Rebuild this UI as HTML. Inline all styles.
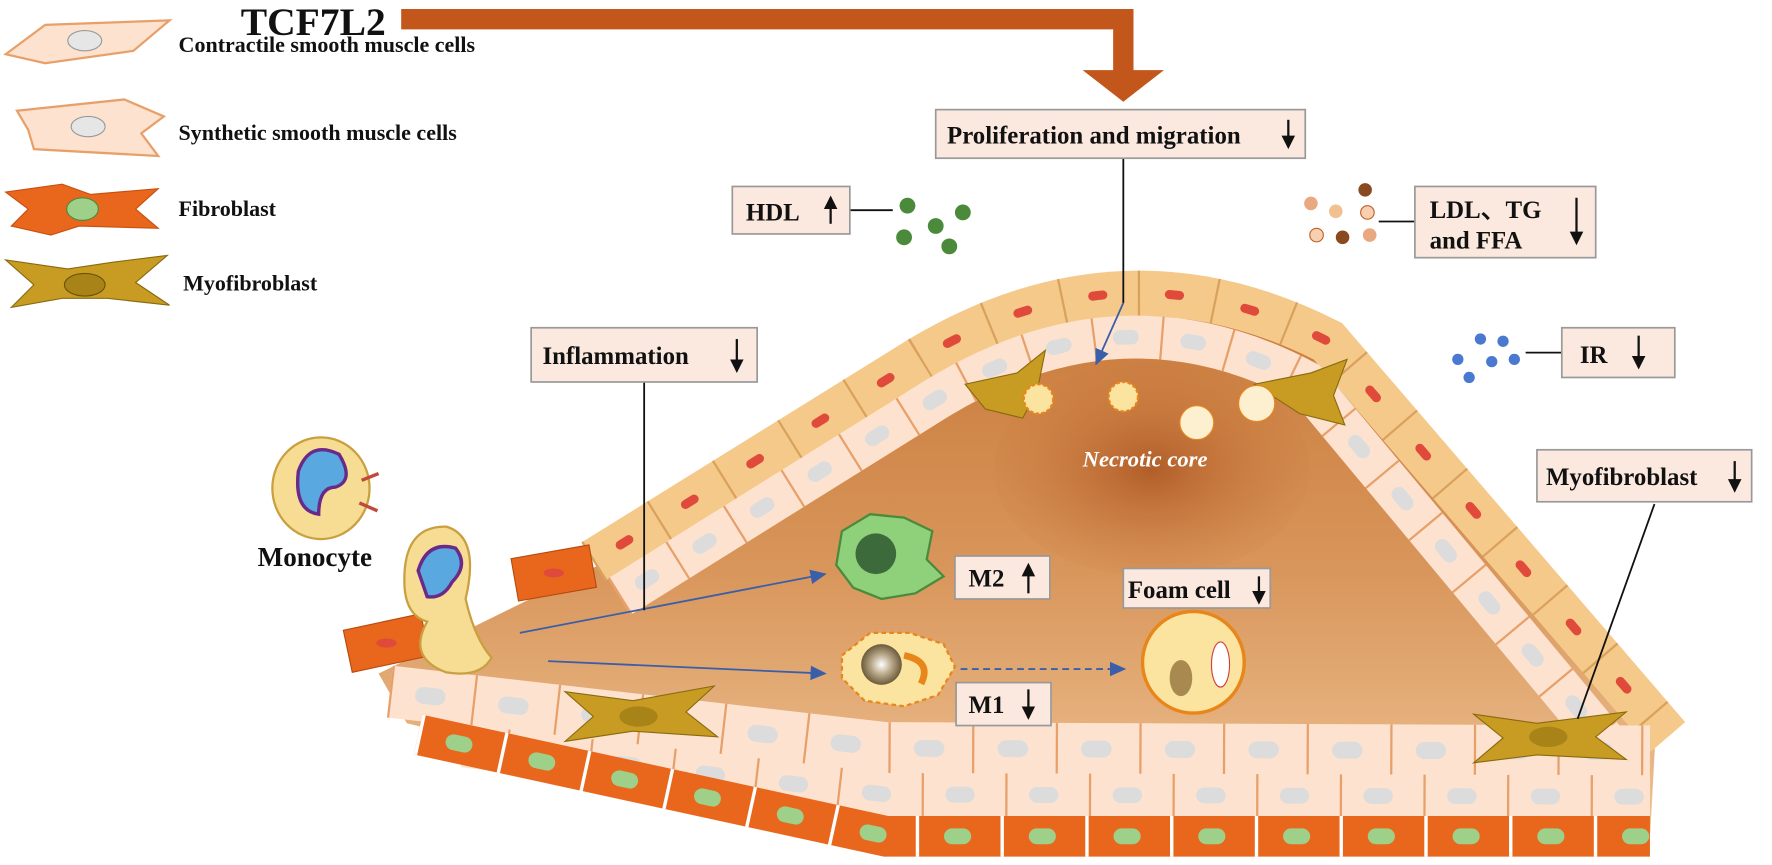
<!DOCTYPE html>
<html><head><meta charset="utf-8"><style>
html,body{margin:0;padding:0;background:#fff}
svg{display:block}
text{font-family:"Liberation Serif",serif;font-weight:bold;fill:#111}
</style></head><body>
<svg width="1772" height="865" viewBox="0 0 1568 765.4" preserveAspectRatio="none" xmlns="http://www.w3.org/2000/svg">
<defs>
<linearGradient id="pl" x1="0" y1="0" x2="0" y2="1">
<stop offset="0" stop-color="#c9793a"/><stop offset="0.5" stop-color="#d8955a"/><stop offset="1" stop-color="#efc496"/>
</linearGradient>
<radialGradient id="nc"><stop offset="0" stop-color="#a9521f" stop-opacity="0.8"/><stop offset="1" stop-color="#c8773c" stop-opacity="0.1"/></radialGradient>
<radialGradient id="ball"><stop offset="0" stop-color="#fff"/><stop offset="0.5" stop-color="#b9a98a"/><stop offset="1" stop-color="#6b5a3a"/></radialGradient>
<marker id="ab" markerWidth="10" markerHeight="10" refX="8" refY="4" orient="auto"><path d="M0,0 L9,4 L0,8 Z" fill="#3a5fa8"/></marker>
<marker id="kb" markerWidth="8" markerHeight="8" refX="5" refY="3" orient="auto"><path d="M0,0 L6,3 L0,6 Z" fill="#111"/></marker>
</defs>

<!-- Legend -->
<path d="M5,48 L40,22 L150,18 L118,45 L40,56 Z" fill="#fde3cf" stroke="#e8a06a" stroke-width="2"/>
<ellipse cx="75" cy="36" rx="15" ry="9" fill="#e6e6e6" stroke="#999"/>
<path d="M15,98 L110,88 L145,103 L125,118 L140,138 L30,132 L25,115 Z" fill="#fde3cf" stroke="#e8a06a" stroke-width="2"/>
<ellipse cx="78" cy="112" rx="15" ry="9" fill="#e6e6e6" stroke="#999"/>
<path d="M5,170 L55,163 L80,172 L140,167 L120,185 L140,202 L70,200 L45,208 L10,200 L25,185 Z" fill="#e8671c" stroke="#c85010"/>
<ellipse cx="73" cy="185" rx="14" ry="10" fill="#9fd08a" stroke="#4a8a3a"/>
<path d="M5,230 L60,238 L100,232 L148,226 L120,250 L150,270 L95,264 L55,264 L10,272 L30,252 Z" fill="#c89c22" stroke="#8a6a10"/>
<ellipse cx="75" cy="252" rx="18" ry="10" fill="#a88418" stroke="#6a5208"/>
<text x="158" y="46" font-size="19.5">Contractile smooth muscle cells</text>
<text x="158" y="124" font-size="19.5">Synthetic smooth muscle cells</text>
<text x="158" y="191" font-size="19.5">Fibroblast</text>
<text x="162" y="257" font-size="19.5">Myofibroblast</text>

<!-- TCF7L2 arrow -->
<text x="213" y="31" font-size="35">TCF7L2</text>
<path d="M355,8 L1003,8 L1003,62 L1030,62 L994,90 L958,62 L985,62 L985,26 L355,26 Z" fill="#c2561b"/>

<!-- Plaque body -->
<path d="M335,596 L530,500 L815,320 Q994,205 1175,305 L1465,650 L1460,742 L784,742 L360,640 Z" fill="url(#pl)"/>
<ellipse cx="1019" cy="415" rx="140" ry="95" fill="url(#nc)"/>

<!-- Cap outer yellow cells -->
<path d="M525,497 L815,317 Q994,210 1175,302 L1476,652" fill="none" stroke="#f5c98a" stroke-width="40"/>
<path d="M525,497 L815,317 Q994,210 1175,302 L1476,652" fill="none" stroke="#d9a25c" stroke-width="40" stroke-dasharray="2 66"/>
<path d="M525,497 L815,317 Q994,210 1175,302 L1476,652" fill="none" stroke="#e04a3a" stroke-width="8" stroke-linecap="round" stroke-dasharray="9 59" stroke-dashoffset="-28"/>
<!-- Cap inner pale cells -->
<path d="M548,528 L830,352 Q994,252 1155,338 L1440,680" fill="none" stroke="#fde3cf" stroke-width="38"/>
<path d="M548,528 L830,352 Q994,252 1155,338 L1440,680" fill="none" stroke="#e8a06a" stroke-width="38" stroke-dasharray="2 58"/>
<path d="M548,528 L830,352 Q994,252 1155,338 L1440,680" fill="none" stroke="#dcdcdc" stroke-width="13" stroke-linecap="round" stroke-dasharray="10 50" stroke-dashoffset="-24"/>

<!-- Bottom pale layers -->
<path d="M345,612 L784,662 L1460,665" fill="none" stroke="#fde3cf" stroke-width="46"/>
<path d="M345,612 L784,662 L1460,665" fill="none" stroke="#e8a06a" stroke-width="46" stroke-dasharray="2 72"/>
<path d="M345,612 L784,662 L1460,665" fill="none" stroke="#dcdcdc" stroke-width="15" stroke-linecap="round" stroke-dasharray="12 62" stroke-dashoffset="-30"/>
<path d="M410,660 L784,703 L1460,705" fill="none" stroke="#fde3cf" stroke-width="38"/>
<path d="M410,660 L784,703 L1460,705" fill="none" stroke="#e8a06a" stroke-width="38" stroke-dasharray="2 72" stroke-dashoffset="36"/>
<path d="M410,660 L784,703 L1460,705" fill="none" stroke="#dcdcdc" stroke-width="14" stroke-linecap="round" stroke-dasharray="12 62" stroke-dashoffset="-66"/>
<!-- Fibroblast layer -->
<path d="M370,650 L784,740 L1460,740" fill="none" stroke="#e8671c" stroke-width="36"/>
<path d="M370,650 L784,740 L1460,740" fill="none" stroke="#fff" stroke-width="36" stroke-dasharray="3 72"/>
<path d="M370,650 L784,740 L1460,740" fill="none" stroke="#9fd08a" stroke-width="14" stroke-linecap="round" stroke-dasharray="10 65" stroke-dashoffset="-32"/>

<!-- Myofibroblasts -->
<path d="M500,612 L560,620 L632,607 L607,630 L635,652 L560,647 L500,656 L525,634 Z" fill="#c89c22" stroke="#8a6a10"/>
<ellipse cx="565" cy="634" rx="17" ry="9" fill="#a88418"/>
<path d="M1304,632 L1360,640 L1439,630 L1412,652 L1439,672 L1360,668 L1304,675 L1330,653 Z" fill="#c89c22" stroke="#8a6a10"/>
<ellipse cx="1370" cy="652" rx="17" ry="9" fill="#a88418"/>
<path d="M854,340 L900,330 L925,310 L918,345 L905,370 L872,362 Z" fill="#c89c22" stroke="#8a6a10"/>
<path d="M1110,340 L1160,330 L1192,318 L1180,350 L1190,376 L1150,366 Z" fill="#c89c22" stroke="#8a6a10"/>

<!-- Left orange cells -->
<rect x="455" y="488" width="70" height="38" fill="#e8671c" stroke="#b84a10" transform="rotate(-10 490 507)"/>
<ellipse cx="490" cy="507" rx="9" ry="4" fill="#e04a3a"/>
<rect x="307" y="550" width="70" height="38" fill="#e8671c" stroke="#b84a10" transform="rotate(-12 342 569)"/>
<ellipse cx="342" cy="569" rx="9" ry="4" fill="#e04a3a"/>

<!-- Monocytes -->
<ellipse cx="284" cy="432" rx="43" ry="45" fill="#f7dc93" stroke="#c9a040" stroke-width="2"/>
<path d="M264,417 Q274,389 300,402 Q314,425 297,431 Q282,431 282,455 Q260,452 264,417 Z" fill="#5aa8e0" stroke="#6a2a8a" stroke-width="3"/>
<path d="M320,425 L335,419 M318,445 L334,452" stroke="#c04a3a" stroke-width="3"/>
<path d="M358,520 Q355,465 395,466 Q425,475 412,530 Q420,565 435,582 Q425,600 395,595 Q360,582 378,550 Q360,545 358,520 Z" fill="#f7dc93" stroke="#c9a040" stroke-width="2"/>
<path d="M370,505 Q378,478 403,485 Q415,500 400,515 Q392,530 378,528 Z" fill="#5aa8e0" stroke="#6a2a8a" stroke-width="3"/>
<text x="228" y="501" font-size="24">Monocyte</text>

<!-- Macrophages -->
<path d="M745,470 L770,455 L800,458 L825,470 L820,495 L835,510 L810,525 L780,530 L755,520 L740,500 Z" fill="#8fd07a" stroke="#4a8a3a" stroke-width="2"/>
<circle cx="775" cy="490" r="18" fill="#3c6a3a"/>
<path d="M745,580 L770,560 L805,560 L835,570 L845,590 L830,615 L800,625 L765,620 L745,600 Z" fill="#fbe3a0" stroke="#e8861a" stroke-width="2" stroke-dasharray="4 3"/>
<circle cx="780" cy="588" r="18" fill="url(#ball)"/>
<path d="M800,580 Q825,585 815,605" stroke="#e8861a" stroke-width="6" fill="none"/>
<circle cx="1056" cy="586" r="45" fill="#fbe3a0" stroke="#e8861a" stroke-width="3"/>
<ellipse cx="1045" cy="600" rx="10" ry="16" fill="#a88a50"/>
<ellipse cx="1080" cy="588" rx="8" ry="20" fill="#fff" stroke="#d04040"/>
<circle cx="919" cy="353" r="13" fill="#fbe3a0" stroke="#e8861a" stroke-width="2" stroke-dasharray="3 2"/>
<circle cx="994" cy="351" r="13" fill="#fbe3a0" stroke="#e8861a" stroke-width="2" stroke-dasharray="3 2"/>
<circle cx="1059" cy="374" r="15" fill="#fdf0d0" stroke="#e8861a"/>
<circle cx="1112" cy="357" r="16" fill="#fdf0d0" stroke="#e8861a"/>
<text x="958" y="413" font-size="20" font-style="italic" style="fill:#fff">Necrotic core</text>

<!-- Blue arrows -->
<line x1="460" y1="560" x2="730" y2="508" stroke="#3a5fa8" stroke-width="1.6" marker-end="url(#ab)"/>
<line x1="485" y1="585" x2="730" y2="596" stroke="#3a5fa8" stroke-width="1.6" marker-end="url(#ab)"/>
<line x1="850" y1="592" x2="995" y2="592" stroke="#3a5fa8" stroke-width="1.6" stroke-dasharray="6 4" marker-end="url(#ab)"/>
<line x1="994" y1="268" x2="970" y2="322" stroke="#3a5fa8" stroke-width="1.6" marker-end="url(#ab)"/>

<!-- Dots -->
<g fill="#4a8a3a"><circle cx="803" cy="182" r="7"/><circle cx="852" cy="188" r="7"/><circle cx="828" cy="200" r="7"/><circle cx="800" cy="210" r="7"/><circle cx="840" cy="218" r="7"/></g>
<g><circle cx="1160" cy="180" r="6" fill="#e8a880"/><circle cx="1182" cy="187" r="6" fill="#f0c090"/><circle cx="1208" cy="168" r="6" fill="#8a4a20"/><circle cx="1210" cy="188" r="6" fill="#f8d0b0" stroke="#c06030"/><circle cx="1165" cy="208" r="6" fill="#f8d0b0" stroke="#c06030"/><circle cx="1188" cy="210" r="6" fill="#8a4a20"/><circle cx="1212" cy="208" r="6" fill="#e8a880"/></g>
<g fill="#4a7ad0"><circle cx="1310" cy="300" r="5"/><circle cx="1330" cy="302" r="5"/><circle cx="1290" cy="318" r="5"/><circle cx="1320" cy="320" r="5"/><circle cx="1340" cy="318" r="5"/><circle cx="1300" cy="334" r="5"/></g>

<!-- Lines to boxes -->
<g stroke="#111" stroke-width="1.6">
<line x1="994" y1="140" x2="994" y2="268"/>
<line x1="752" y1="186" x2="790" y2="186"/>
<line x1="1220" y1="196" x2="1252" y2="196"/>
<line x1="1350" y1="312" x2="1382" y2="312"/>
<line x1="570" y1="338" x2="570" y2="540"/>
<line x1="1464" y1="446" x2="1396" y2="636"/>
</g>

<!-- Boxes -->
<g fill="#fbe9df" stroke="#999" stroke-width="1.5">
<rect x="828" y="97" width="327" height="43"/>
<rect x="648" y="165" width="104" height="42"/>
<rect x="1252" y="165" width="160" height="63"/>
<rect x="1382" y="290" width="100" height="44"/>
<rect x="470" y="290" width="200" height="48"/>
<rect x="1360" y="398" width="190" height="46"/>
<rect x="845" y="492" width="84" height="38"/>
<rect x="994" y="503" width="130" height="35"/>
<rect x="846" y="604" width="84" height="38"/>
</g>
<g font-size="22">
<text x="838" y="127">Proliferation and migration</text>
<text x="660" y="195">HDL</text>
<text x="1265" y="193">LDL、TG</text>
<text x="1265" y="220">and FFA</text>
<text x="1398" y="321">IR</text>
<text x="480" y="322">Inflammation</text>
<text x="1368" y="429">Myofibroblast</text>
<text x="857" y="519">M2</text>
<text x="998" y="529">Foam cell</text>
<text x="857" y="631">M1</text>
</g>
<!-- vertical arrows -->
<g stroke="#111" stroke-width="2" marker-end="url(#kb)">
<line x1="1140" y1="106" x2="1140" y2="130"/>
<line x1="735" y1="198" x2="735" y2="175"/>
<line x1="1395" y1="175" x2="1395" y2="215"/>
<line x1="1450" y1="297" x2="1450" y2="325"/>
<line x1="652" y1="300" x2="652" y2="328"/>
<line x1="1535" y1="408" x2="1535" y2="434"/>
<line x1="910" y1="525" x2="910" y2="500"/>
<line x1="1114" y1="510" x2="1114" y2="533"/>
<line x1="910" y1="610" x2="910" y2="635"/>
</g>
</svg>
</body></html>
